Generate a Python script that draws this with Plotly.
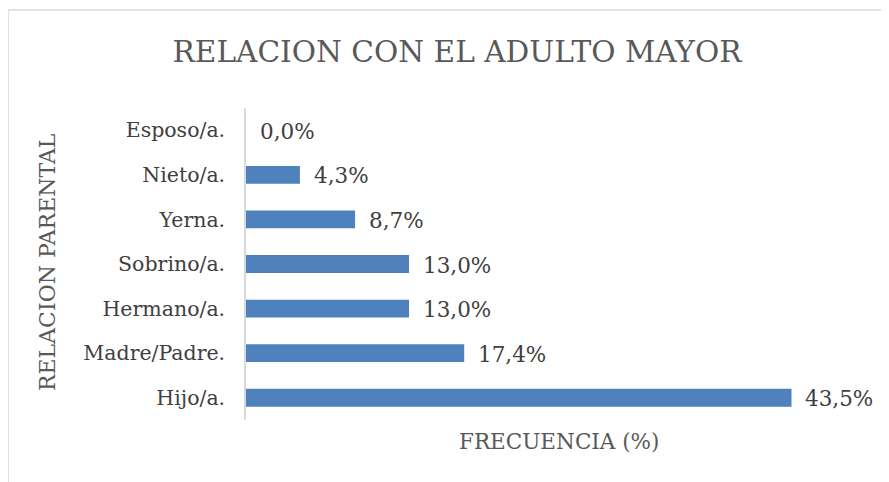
import plotly.graph_objects as go

categories = ["Hijo/a.", "Madre/Padre.", "Hermano/a.", "Sobrino/a.", "Yerna.", "Nieto/a.", "Esposo/a."]
values = [43.5, 17.4, 13.0, 13.0, 8.7, 4.3, 0.0]
labels = [f"{v:.1f}%".replace(".", ",") for v in values]

# page body has an 8px margin, so target pixel positions are shifted by OFF
OFF = 8
W, H = 889, 482
L, R, T, B = 246 - OFF, 16 + OFF, 108 - OFF, 62 + OFF
pw, ph = W - L - R, H - T - B
FONT = "DejaVu Serif, Liberation Serif, serif"


def px_x(p):
    return (p - OFF - L) / pw


def px_y(p):
    return (H - B - (p - OFF)) / ph


fig = go.Figure(go.Bar(
    y=categories, x=values, orientation="h",
    marker=dict(color="#4F81BD", line=dict(width=0)),
    width=0.4,
))

annotations = [
    dict(x=v, y=c, text=t, xref="x", yref="y", xanchor="left", yanchor="middle",
         xshift=12, yshift=-1, showarrow=False,
         font=dict(family=FONT, size=21.5, color="#404040"))
    for c, v, t in zip(categories, values, labels)
]
annotations += [
    dict(text="FRECUENCIA (%)", xref="paper", yref="paper",
         x=px_x(559), y=px_y(441), xanchor="center", yanchor="middle",
         showarrow=False, font=dict(family=FONT, size=21.5, color="#595959")),
    dict(text="RELACION PARENTAL", xref="paper", yref="paper",
         x=px_x(47), y=px_y(262), xanchor="center", yanchor="middle",
         textangle=-90, showarrow=False,
         font=dict(family=FONT, size=22, color="#595959")),
]

fig.update_layout(
    width=W, height=H,
    margin=dict(l=L, r=R, t=T, b=B),
    paper_bgcolor="white", plot_bgcolor="white",
    showlegend=False,
    font=dict(family=FONT, color="#404040"),
    title=dict(text="RELACION CON EL ADULTO MAYOR", x=(457 - OFF) / W, xanchor="center",
               y=1 - (52 - OFF) / H, yanchor="middle",
               font=dict(family=FONT, size=29.6, color="#595959")),
    xaxis=dict(range=[0, 50], showticklabels=False, showgrid=False, zeroline=False,
               showline=False, fixedrange=True),
    yaxis=dict(showline=True, linecolor="#d9d9d9", linewidth=1.5, showgrid=False,
               ticks="", ticklabelstandoff=15,
               tickfont=dict(family=FONT, size=20.5, color="#404040")),
    annotations=annotations,
    shapes=[dict(type="rect", xref="paper", yref="paper",
                 x0=px_x(8), x1=px_x(888),
                 y0=px_y(500), y1=px_y(10),
                 line=dict(color="#d9d9d9", width=1.5), fillcolor="rgba(0,0,0,0)", layer="below")],
)

fig.write_html("out.html")
